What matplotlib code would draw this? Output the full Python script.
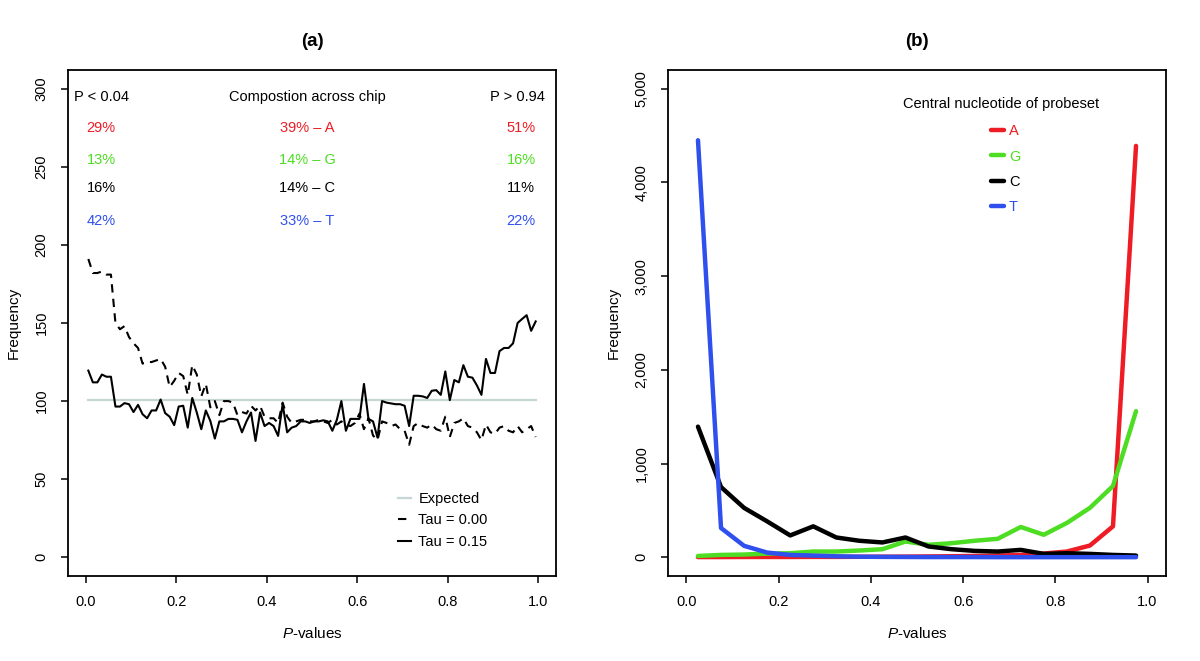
import numpy as np
import matplotlib
matplotlib.use('Agg')
import matplotlib.pyplot as plt
from matplotlib.lines import Line2D
from matplotlib.ticker import FuncFormatter

plt.rcParams['font.family'] = ['Liberation Sans', 'DejaVu Sans']
plt.rcParams['mathtext.fontset'] = 'custom'
plt.rcParams['mathtext.it'] = 'Liberation Sans:italic'
plt.rcParams['mathtext.rm'] = 'Liberation Sans'

# ---- panel (a): 100 p-value bins ----
p_fine = np.arange(100) * 0.01 + 0.005  # bin centres
expected_level = 100.8
tau_000 = [191, 182, 182, 183, 181, 181, 150, 146, 148, 141,
           137, 134, 124, 125, 125, 126, 127, 122, 109, 113,
           118, 116, 104, 123, 117, 103, 111, 96, 100, 91,
           100, 100, 99, 91, 93, 92, 97, 94, 97, 90,
           89, 89, 86, 99, 90, 86, 87, 88, 88, 87,
           87, 88, 87, 86, 88, 85, 87, 85, 84, 86,
           92, 82, 89, 78, 75, 87, 86, 84, 85, 82,
           81, 72, 84, 86, 84, 83, 85, 82, 81, 90,
           77, 86, 87, 89, 84, 83, 80, 75, 85, 80,
           79, 83, 84, 81, 80, 84, 80, 82, 84, 77]
tau_015 = [119.5, 112, 112, 117, 115.6, 115.6, 96.5, 96.5, 98.7, 98,
           93, 97.6, 91.6, 89, 94, 94, 101, 92.3, 90, 84.6,
           96.5, 97, 83, 102, 92.7, 82, 94, 87.3, 76, 87,
           87, 88.6, 88.6, 88, 80, 87, 92.7, 74.5, 92.7, 84,
           86, 84, 77.7, 98, 80, 83, 84, 87, 87, 86,
           87, 87, 87.7, 87, 81, 88, 100, 81, 88.6, 88.6,
           88.6, 111, 88.6, 87, 76.6, 100, 99, 98.5, 98, 98,
           97, 84, 103.4, 103.4, 103, 102, 106.6, 107, 104, 119,
           100.6, 113.5, 112, 123, 115.6, 115, 110, 104, 127, 118,
           118, 132, 134, 134, 137, 150, 152.6, 155, 145, 151]

nucleotides = ['A', 'G', 'C', 'T']
pct_low = ['29%', '13%', '16%', '42%']
pct_chip = ['39%', '14%', '14%', '33%']
pct_high = ['51%', '16%', '11%', '22%']

# ---- panel (b): 20 p-value bins ----
p_coarse = np.arange(20) * 0.05 + 0.025
freq_A = [2, 2, 3, 3, 3, 4, 4, 5, 6, 7, 9, 11, 14, 18, 25, 40, 61, 125, 330, 4390]
freq_G = [14, 25, 29, 39, 43, 61, 61, 72, 86, 168, 133, 150, 176, 197, 323, 240, 366, 527, 760, 1559]
freq_C = [1394, 749, 527, 383, 233, 330, 211, 176, 158, 211, 115, 86, 68, 61, 79, 36, 43, 36, 25, 18]
freq_T = [4450, 312, 122, 50, 25, 18, 10, 6, 4, 3, 2, 2, 2, 1, 1, 1, 1, 1, 1, 1]

base_colors = {'A': '#ee1c24', 'G': '#4ddd22', 'C': 'black', 'T': '#3050ee'}
expected_color = '#c6d6d4'
fs = 10.5


def style_axes(ax):
    for s in ax.spines.values():
        s.set_linewidth(1.3)
    ax.tick_params(direction='out', length=5, width=1.1, labelsize=fs, pad=9)
    ax.tick_params(axis='y', labelrotation=90)
    for lab in ax.get_yticklabels():
        lab.set_va('center')
    ax.set_xlim(-0.04, 1.04)
    ax.set_xticks([0.0, 0.2, 0.4, 0.6, 0.8, 1.0])
    ax.xaxis.set_major_formatter(FuncFormatter(lambda v, p: f'{v:.1f}'))
    ax.set_xlabel(r'$\it{P}$-values', fontsize=fs + 0.5, labelpad=12)
    ax.set_ylabel('Frequency', fontsize=fs + 0.5, labelpad=10)


fig = plt.figure(figsize=(12, 6.61), dpi=100)
ax1 = fig.add_axes([68 / 1200, 1 - 576 / 661, 488 / 1200, 506 / 661])
ax2 = fig.add_axes([668 / 1200, 1 - 576 / 661, 498 / 1200, 506 / 661])

# panel (a)
ax1.plot(p_fine, [expected_level] * len(p_fine), color=expected_color, lw=1.6)
ax1.plot(p_fine, tau_000, color='black', lw=1.5, ls=(0, (4, 3)))
ax1.plot(p_fine, tau_015, color='black', lw=1.5)
ax1.set_ylim(-12, 312)
ax1.set_yticks(range(0, 301, 50))
style_axes(ax1)

ax1.text(-0.026, 295, 'P < 0.04', fontsize=fs, ha='left', va='center')
ax1.text(0.49, 295, 'Compostion across chip', fontsize=fs, ha='center', va='center')
ax1.text(1.015, 295, 'P > 0.94', fontsize=fs, ha='right', va='center')
row_y = [275, 254.5, 236.5, 215.5]
for nt, lo, mid, hi, yy in zip(nucleotides, pct_low, pct_chip, pct_high, row_y):
    c = base_colors[nt]
    ax1.text(0.033, yy, lo, color=c, fontsize=fs, ha='center', va='center')
    ax1.text(0.49, yy, f'{mid} \u2013 {nt}', color=c, fontsize=fs, ha='center', va='center')
    ax1.text(0.963, yy, hi, color=c, fontsize=fs, ha='center', va='center')

handles_a = [Line2D([], [], color=expected_color, lw=1.6),
             Line2D([], [], color='black', lw=1.5, ls=(0, (4, 3))),
             Line2D([], [], color='black', lw=1.5)]
ax1.legend(handles_a, ['Expected', 'Tau = 0.00', 'Tau = 0.15'],
           loc='lower left', bbox_to_anchor=(0.676, 0.054), frameon=False,
           handlelength=0.9, handletextpad=0.5, labelspacing=0.5,
           fontsize=fs, borderaxespad=0, borderpad=0)
ax1.text(0.5, 1.057, '(a)', transform=ax1.transAxes, ha='center', va='center',
         fontsize=13.5, fontweight='bold')

# panel (b)
series_b = {'A': freq_A, 'G': freq_G, 'C': freq_C, 'T': freq_T}
for nt in nucleotides:
    ax2.plot(p_coarse, series_b[nt], color=base_colors[nt], lw=3.2, label=nt,
             solid_capstyle='round')
ax2.set_ylim(-200, 5200)
ax2.set_yticks(range(0, 5001, 1000))
ax2.yaxis.set_major_formatter(FuncFormatter(lambda v, p: f'{int(v):,}'))
style_axes(ax2)

ax2.text(0.669, 0.933, 'Central nucleotide of probeset', transform=ax2.transAxes,
         fontsize=fs, ha='center', va='center')
ax2.legend(loc='upper left', bbox_to_anchor=(0.648, 0.893), frameon=False,
           handlelength=0.9, handletextpad=0.35, labelspacing=0.78,
           fontsize=fs, borderaxespad=0, borderpad=0,
           labelcolor=[base_colors[n] for n in nucleotides])
ax2.text(0.5, 1.057, '(b)', transform=ax2.transAxes, ha='center', va='center',
         fontsize=13.5, fontweight='bold')

fig.savefig('out.png', dpi=100)
